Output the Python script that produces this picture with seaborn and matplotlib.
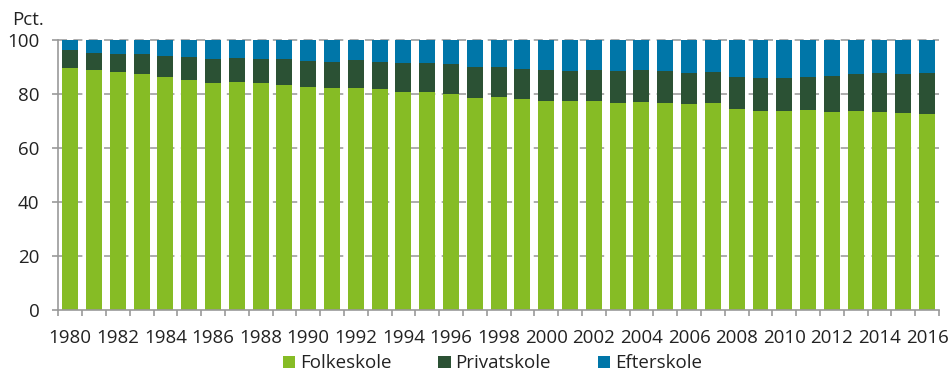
import matplotlib
matplotlib.use("Agg")
import matplotlib.pyplot as plt
import seaborn as sns
import numpy as np
import pandas as pd
from matplotlib.patches import Patch

years = list(range(1980, 2017))
folkeskole = [89.4, 88.6, 88.0, 87.2, 86.0, 85.0, 84.0, 84.4, 83.9, 83.3,
              82.4, 82.0, 82.0, 81.7, 80.7, 80.5, 80.0, 78.4, 78.8, 78.0,
              77.2, 77.2, 77.2, 76.6, 76.8, 76.7, 76.1, 76.6, 74.5, 73.5,
              73.6, 73.9, 73.1, 73.6, 73.4, 72.9, 72.5]
privatskole = [6.7, 6.6, 6.8, 7.6, 8.0, 8.6, 9.0, 8.8, 8.8, 9.4,
               9.7, 9.8, 10.3, 10.1, 10.7, 10.9, 11.0, 11.4, 11.0, 11.3,
               11.6, 11.1, 11.4, 11.7, 11.8, 11.8, 11.6, 11.6, 11.7, 12.4,
               12.3, 12.3, 13.5, 13.7, 14.3, 14.4, 15.2]
efterskole = [3.9, 4.8, 5.2, 5.2, 6.0, 6.4, 7.0, 6.8, 7.3, 7.3,
              7.9, 8.2, 7.7, 8.2, 8.6, 8.6, 9.0, 10.2, 10.2, 10.7,
              11.2, 11.7, 11.4, 11.7, 11.4, 11.5, 12.3, 11.8, 13.8, 14.1,
              14.1, 13.8, 13.4, 12.7, 12.3, 12.7, 12.3]
series_names = ["Folkeskole", "Privatskole", "Efterskole"]
colors = ["#86bc25", "#2b5134", "#0076a8"]
yticks = [0, 20, 40, 60, 80, 100]

df = pd.DataFrame({"year": [str(y) for y in years],
                   "Folkeskole": folkeskole,
                   "Privatskole": privatskole,
                   "Efterskole": efterskole})
df["c1"] = df["Folkeskole"]
df["c2"] = df["c1"] + df["Privatskole"]
df["c3"] = df["c2"] + df["Efterskole"]

sns.set_theme(style="white")
plt.rcParams["font.family"] = ["Open Sans", "DejaVu Sans"]
FS = 13.5
TXT = "#222222"

fig = plt.figure(figsize=(9.5, 3.74), dpi=100)
ax = fig.add_axes([58.3 / 950, 1 - 309.7 / 374, (939 - 58.3) / 950, 270 / 374])

ax.set_axisbelow(True)
for y in yticks[1:]:
    ax.axhline(y, color="#a6a6a6", lw=1.3, ls=(0, (5, 3.5)), zorder=0, clip_on=False)

for col, c in zip(["c3", "c2", "c1"], colors[::-1]):
    sns.barplot(data=df, x="year", y=col, color=c, width=0.67, ax=ax,
                saturation=1, edgecolor="none", linewidth=0, zorder=2)

ax.set_ylim(0, 100)
ax.set_xlim(-0.5, len(years) - 0.5)
ax.set_yticks(yticks)
ax.set_yticklabels([str(v) for v in yticks], fontsize=FS, color=TXT)
ax.set_xticks(range(len(years)))
ax.set_xticklabels([str(y) if i % 2 == 0 else "" for i, y in enumerate(years)],
                   fontsize=FS, color=TXT)
ax.tick_params(axis="x", length=0, pad=14)
# boundary tick marks
ax.set_xticks(np.arange(-0.5, len(years), 1.0), minor=True)
ax.tick_params(axis="x", which="minor", length=4.5, width=1.2, color="#999999", bottom=True)
ax.tick_params(axis="y", length=4.5, width=1.2, color="#999999", left=True, pad=9)
ax.set_xlabel("")
ax.set_ylabel("")

for s in ["top", "right"]:
    ax.spines[s].set_visible(False)
for s in ["left", "bottom"]:
    ax.spines[s].set_color("#999999")
    ax.spines[s].set_linewidth(1.2)

fig.text(12 / 950, 1 - 20 / 374, "Pct.", fontsize=FS, color=TXT, va="center", ha="left")

handles = [Patch(facecolor=c, edgecolor="none") for c in colors]
fig.legend(handles, series_names, loc="center", bbox_to_anchor=(492.5 / 950, 1 - 363.5 / 374),
           ncol=3, frameon=False, fontsize=FS, handlelength=0.65, handleheight=0.65,
           columnspacing=2.5, handletextpad=0.27, labelcolor=TXT,
           borderpad=0, borderaxespad=0)

fig.savefig("out.png", dpi=100)
